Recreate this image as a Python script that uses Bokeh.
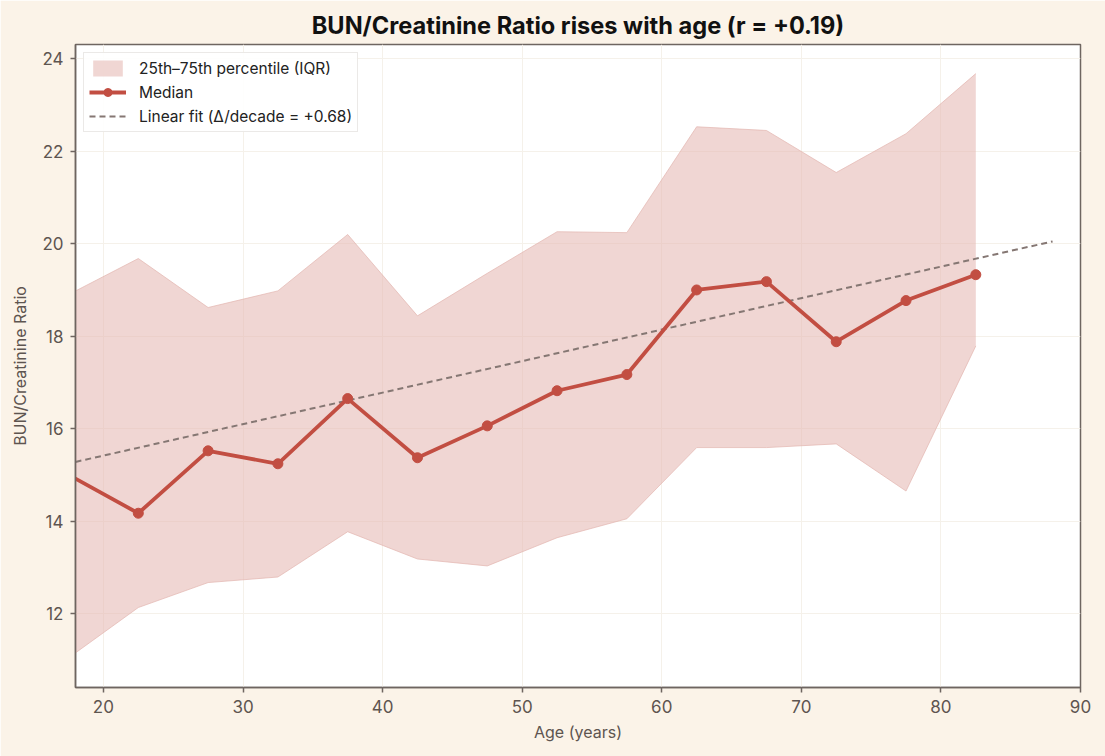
from bokeh.plotting import figure
from bokeh.models import Range1d, Legend, LegendItem, FixedTicker, ColumnDataSource
from bokeh.embed import file_html
from bokeh.resources import INLINE

ages = [17.5, 22.5, 27.5, 32.5, 37.5, 42.5, 47.5, 52.5, 57.5, 62.5, 67.5, 72.5, 77.5, 82.5]
median = [15.0, 14.17, 15.52, 15.24, 16.65, 15.37, 16.06, 16.82, 17.17, 19.0, 19.18, 17.88, 18.77, 19.33]
q25 = [11.04, 12.13, 12.67, 12.79, 13.77, 13.18, 13.03, 13.64, 14.05, 15.59, 15.59, 15.67, 14.65, 17.79]
q75 = [18.9, 19.68, 18.62, 18.98, 20.2, 18.44, 19.36, 20.26, 20.24, 22.53, 22.45, 21.54, 22.38, 23.68]
fit_x = [18.0, 88.0]
fit_y = [15.28, 20.05]
x_ticks = [20, 30, 40, 50, 60, 70, 80, 90]
y_ticks = [12, 14, 16, 18, 20, 22, 24]

FONT = "Inter"
BG = "#FBF3E8"
AX = "#6E6560"
RED = "#C24E42"

src = ColumnDataSource(dict(age=ages, med=median, lo=q25, hi=q75))

p = figure(width=1105, height=756, output_backend="svg", toolbar_location=None,
           x_range=Range1d(18, 90), y_range=Range1d(10.4, 24.31),
           background_fill_color="white", border_fill_color=BG,
           min_border_left=75, min_border_right=25, min_border_top=44, min_border_bottom=69)

p.title.text = "BUN/Creatinine Ratio rises with age (r = +0.19)"
p.title.align = "center"
p.title.text_font = FONT
p.title.text_font_size = "23.6px"
p.title.text_font_style = "bold"
p.title.text_color = "#111111"
p.title.offset = 0

band = p.varea(x="age", y1="lo", y2="hi", source=src, fill_color="#E3B5AF", fill_alpha=0.55)
p.line(x="age", y="hi", source=src, line_color="#E3B5AF", line_width=1, line_alpha=0.7)
p.line(x="age", y="lo", source=src, line_color="#E3B5AF", line_width=1, line_alpha=0.7)
fit = p.line(x=fit_x, y=fit_y, line_color="#857773", line_width=2, line_dash="6 4")
med_line = p.line(x="age", y="med", source=src, line_color=RED, line_width=3.8)
med_pts = p.scatter(x="age", y="med", source=src, size=10, fill_color=RED, line_color=RED)

legend = Legend(items=[
    LegendItem(label="25th\u201375th percentile (IQR)", renderers=[band]),
    LegendItem(label="Median", renderers=[med_line, med_pts]),
    LegendItem(label="Linear fit (\u0394/decade = +0.68)", renderers=[fit]),
], location="top_left")
legend.label_text_font = FONT
legend.label_text_font_size = "15.5px"
legend.label_text_color = "#222222"
legend.background_fill_color = "white"
legend.background_fill_alpha = 0.9
legend.border_line_color = "#D8D4D0"
legend.border_line_width = 1.5
legend.margin = 8
legend.padding = 5
legend.spacing = 4
legend.label_height = 20
legend.glyph_height = 20
legend.glyph_width = 37
legend.label_standoff = 13
p.add_layout(legend)

p.outline_line_color = AX
p.outline_line_width = 1.5
p.xgrid.grid_line_color = "#F5F1EA"
p.ygrid.grid_line_color = "#F5F1EA"
p.xgrid.ticker = FixedTicker(ticks=x_ticks)
p.ygrid.ticker = FixedTicker(ticks=y_ticks)

p.xaxis.ticker = FixedTicker(ticks=x_ticks)
p.yaxis.ticker = FixedTicker(ticks=y_ticks)
p.xaxis.axis_label = "Age (years)"
p.yaxis.axis_label = "BUN/Creatinine Ratio"
for ax in (p.xaxis[0], p.yaxis[0]):
    ax.axis_line_color = AX
    ax.axis_line_width = 1.5
    ax.major_tick_line_color = AX
    ax.major_tick_line_width = 1.5
    ax.major_tick_in = 0
    ax.major_tick_out = 5
    ax.minor_tick_line_color = None
    ax.major_label_text_font = FONT
    ax.major_label_text_font_size = "17px"
    ax.major_label_text_color = "#5E5550"
    ax.major_label_standoff = 7
    ax.axis_label_text_font = FONT
    ax.axis_label_text_font_size = "16px"
    ax.axis_label_text_font_style = "normal"
    ax.axis_label_text_color = "#5E5550"
p.xaxis.axis_label_standoff = 6
p.yaxis.axis_label_standoff = 9

open("out.html", "w").write(file_html(p, INLINE))
